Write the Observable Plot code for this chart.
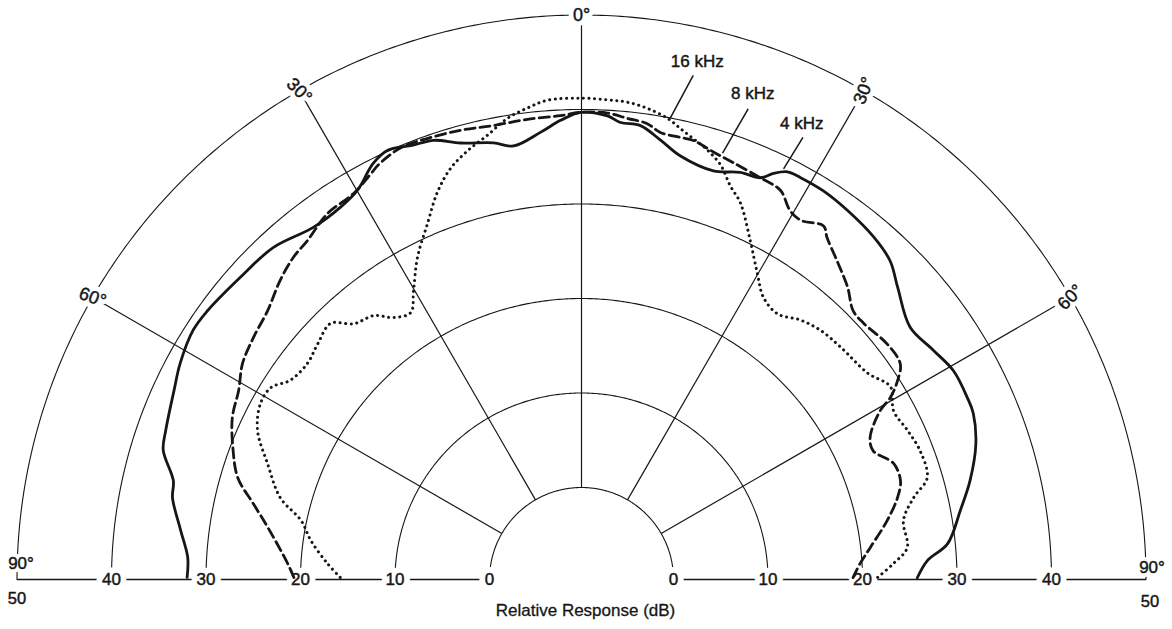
<!DOCTYPE html>
<html>
<head>
<meta charset="utf-8">
<script src="https://cdn.jsdelivr.net/npm/d3@7"></script>
<script src="https://cdn.jsdelivr.net/npm/@observablehq/plot@0.6"></script>
<style>
  html, body { margin: 0; padding: 0; background: #fff; }
  #chart svg { display: block; }
</style>
</head>
<body>
<div id="chart"></div>
<script>
// ---------- data (angle in degrees, 0 = on-axis, negative = left; level in dB) ----------
const ringLevels = [0, 10, 20, 30, 40, 50];
const baselineLabels = ["0", "10", "20", "30", "40"];
const spokeAngles = [-60, -30, 0, 30, 60];
const spokeLabels = ["60°", "30°", "0°", "30°", "60°"];
const sideLabel = "90°";
const outerLabel = "50";
const axisTitle = "Relative Response (dB)";

const seriesNames = ["4 kHz", "8 kHz", "16 kHz"];

const angles4k = [-89.7, -86.8, -83.0, -78.7, -76.4, -72.8, -70.3, -65.1, -61.7, -57.3, -54.3, -48.5, -42.9, -37.3, -32.9, -29.9, -26.6, -24.3, -21.5, -18.6, -15.5, -11.4, -8.9, -5.2, -2.6, -0.1, 3.2, 4.9, 7.4, 10.2, 13.1, 17.9, 21.3, 24.0, 25.3, 26.8, 28.6, 31.9, 35.8, 40.5, 44.1, 47.3, 52.5, 56.9, 60.7, 64.8, 67.0, 71.0, 75.7, 79.7, 84.4, 86.9, 89.7];
const levels4k = [32.0, 32.0, 33.0, 34.4, 34.7, 36.6, 37.0, 37.8, 38.5, 39.1, 39.0, 38.5, 38.2, 37.1, 37.2, 37.8, 39.5, 40.1, 39.6, 39.3, 38.2, 37.4, 36.7, 37.8, 38.9, 39.7, 39.4, 38.8, 38.7, 37.5, 36.3, 35.7, 36.5, 36.8, 37.8, 38.6, 38.7, 38.7, 38.4, 37.9, 37.2, 35.8, 34.1, 34.7, 35.4, 35.4, 35.3, 34.4, 32.7, 31.0, 29.2, 26.9, 25.8];

const angles8k = [-89.6, -86.9, -80.6, -77.0, -73.5, -69.3, -65.1, -61.1, -57.5, -53.6, -49.4, -45.2, -41.8, -38.9, -34.8, -30.6, -27.0, -26.2, -22.7, -19.2, -15.1, -11.0, -6.7, -2.6, -0.1, 3.2, 5.7, 8.2, 10.0, 12.6, 14.3, 17.2, 20.0, 24.0, 27.1, 29.5, 31.4, 34.4, 35.7, 38.7, 42.3, 45.3, 47.8, 52.4, 55.9, 57.8, 59.5, 60.5, 63.8, 66.2, 69.6, 72.8, 75.5, 79.1, 83.7, 86.7, 89.6];
const levels8k = [20.7, 21.4, 23.9, 25.9, 28.2, 29.7, 31.0, 31.7, 32.8, 33.4, 34.0, 35.2, 36.0, 36.4, 37.4, 37.7, 38.8, 39.1, 39.8, 39.7, 39.5, 39.2, 39.3, 39.4, 39.7, 39.7, 39.3, 39.0, 38.3, 38.2, 38.2, 37.6, 37.2, 36.8, 36.5, 35.1, 34.8, 35.6, 34.8, 33.5, 32.1, 30.7, 30.6, 31.1, 31.0, 29.8, 28.2, 26.6, 24.3, 24.0, 25.5, 25.6, 24.8, 23.2, 21.0, 19.8, 19.0];

const angles16k = [-89.5, -86.4, -81.8, -78.1, -74.8, -69.7, -65.3, -61.3, -58.3, -55.6, -51.7, -48.2, -44.4, -41.7, -38.2, -35.7, -32.6, -30.2, -27.0, -23.4, -20.4, -17.7, -14.9, -12.0, -9.1, -6.5, -4.1, -0.1, 3.1, 5.5, 8.0, 10.6, 12.4, 14.2, 16.4, 18.6, 20.7, 22.9, 26.5, 29.9, 32.8, 36.4, 40.2, 43.8, 48.2, 54.2, 58.1, 61.6, 65.4, 69.2, 73.6, 76.1, 79.6, 84.4, 87.1, 89.6];
const levels16k = [15.8, 17.2, 19.2, 20.6, 23.3, 25.7, 28.0, 29.0, 28.9, 27.6, 27.2, 27.7, 28.2, 26.5, 25.8, 24.4, 23.8, 25.6, 28.5, 31.3, 34.0, 35.9, 37.2, 38.3, 39.7, 40.5, 41.1, 41.2, 41.1, 41.0, 40.6, 39.9, 39.1, 38.4, 37.6, 36.5, 34.8, 33.5, 30.3, 27.6, 25.8, 25.2, 26.2, 26.8, 27.1, 27.6, 28.8, 27.8, 28.2, 28.6, 28.4, 26.5, 24.9, 24.9, 23.3, 21.6];

// callout leaders: [angle on curve, angle at label], [level on curve, level at label]
const calloutNames = ["16 kHz", "8 kHz", "4 kHz"];
const calloutAngles = [[10.9, 12.5], [18.3, 19.5], [26.2, 26.6]];
const calloutLevels = [[40.0, 44.9], [37.8, 43.1], [38.7, 42.6]];
const calloutTextAngles = [12.6, 19.4, 25.8];
const calloutTextLevels = [46.4, 44.8, 43.8];

// ---------- layout ----------
const W = 1172, H = 629, CX = 581, CY = 579;
const R = d3.scaleLinear().domain([0, 50]).range([92, 564.5]);
const rad = d => d * Math.PI / 180;
const px = (a, v) => R(v) * Math.sin(rad(a));
const py = (a, v) => R(v) * Math.cos(rad(a));

const ringPts = ringLevels.flatMap(level =>
  d3.range(-90, 90.01, 0.5).map(a => ({level, x: px(a, level), y: py(a, level)})));

const spokes = spokeAngles.map(a => ({
  x1: px(a, 0), y1: py(a, 0), x2: px(a, 50), y2: py(a, 50)
}));

const baseline = [
  {x1: -R(50), x2: -R(0)},
  {x1: R(0), x2: R(50)}
];

const spokeRot = [20, 45, 0, -68, -45];
const degLabels = spokeAngles.map((a, i) => ({
  x: px(a, 50), y: py(a, 50), text: spokeLabels[i], rot: spokeRot[i]
}));
const sideLabels = [
  {x: -R(50) + 4, y: 16, text: sideLabel},
  {x: R(50) + 6, y: 12, text: sideLabel}
];
const outerLabels = [
  {x: -R(50), y: -19, text: outerLabel},
  {x: R(50) + 4, y: -22, text: outerLabel}
];
const levelLabels = baselineLabels.flatMap((t, i) => [
  {x: -R(ringLevels[i]), y: 0, text: t},
  {x: R(ringLevels[i]), y: 0, text: t}
]);

function series(angles, levels) {
  return angles.map((a, i) => ({x: px(a, levels[i]), y: py(a, levels[i])}));
}
const s4 = series(angles4k, levels4k);
const s8 = series(angles8k, levels8k);
const s16 = series(angles16k, levels16k);

const leaders = calloutNames.map((n, i) => ({
  x1: px(calloutAngles[i][0], calloutLevels[i][0]), y1: py(calloutAngles[i][0], calloutLevels[i][0]),
  x2: px(calloutAngles[i][1], calloutLevels[i][1]), y2: py(calloutAngles[i][1], calloutLevels[i][1])
}));
const calloutText = calloutNames.map((n, i) => ({
  x: px(calloutTextAngles[i], calloutTextLevels[i]), y: py(calloutTextAngles[i], calloutTextLevels[i]), text: n
}));

const ink = "#161616";
const bold = {fill: ink, stroke: ink, strokeWidth: 0.45};
const chart = Plot.plot({
  width: W, height: H, margin: 0,
  x: {domain: [-CX, W - CX], axis: null},
  y: {domain: [CY - H, CY], axis: null},
  style: {fontFamily: "'Liberation Sans', Arial, Helvetica, sans-serif", background: "#fff"},
  marks: [
    Plot.line(ringPts, {x: "x", y: "y", z: "level", stroke: ink, strokeWidth: 1.1}),
    Plot.link(spokes, {x1: "x1", y1: "y1", x2: "x2", y2: "y2", stroke: ink, strokeWidth: 1.2}),
    Plot.link(baseline, {x1: "x1", x2: "x2", y1: 0, y2: 0, stroke: ink, strokeWidth: 1.4}),
    // halos
    Plot.text(degLabels, {x: "x", y: "y", text: "text", rotate: "rot", fontSize: 18, fill: "white", stroke: "white", strokeWidth: 10}),
    Plot.text(sideLabels, {x: "x", y: "y", text: "text", fontSize: 17, fill: "white", stroke: "white", strokeWidth: 8}),
    Plot.text(levelLabels, {x: "x", y: "y", text: "text", fontSize: 17, fill: "white", stroke: "white", strokeWidth: 12}),
    // text
    Plot.text(degLabels, {x: "x", y: "y", text: "text", rotate: "rot", fontSize: 18, ...bold}),
    Plot.text(sideLabels, {x: "x", y: "y", text: "text", fontSize: 17, ...bold}),
    Plot.text(outerLabels, {x: "x", y: "y", text: "text", fontSize: 16.5, ...bold}),
    Plot.text(levelLabels, {x: "x", y: "y", text: "text", fontSize: 17, ...bold}),
    Plot.text([axisTitle], {x: 4, y: -31, text: d => d, fontSize: 17, fill: ink, stroke: ink, strokeWidth: 0.3}),
    // curves
    Plot.line(s16, {x: "x", y: "y", curve: "catmull-rom", stroke: ink, strokeWidth: 3, strokeDasharray: "0.1,5.5", strokeLinecap: "round"}),
    Plot.line(s8, {x: "x", y: "y", curve: "catmull-rom", stroke: ink, strokeWidth: 2.8, strokeDasharray: "10,5"}),
    Plot.line(s4, {x: "x", y: "y", curve: "catmull-rom", stroke: ink, strokeWidth: 2.8}),
    Plot.link(leaders, {x1: "x1", y1: "y1", x2: "x2", y2: "y2", stroke: ink, strokeWidth: 1.5}),
    Plot.text(calloutText, {x: "x", y: "y", text: "text", fontSize: 17, ...bold})
  ]
});
document.getElementById("chart").appendChild(chart);
</script>
</body>
</html>
